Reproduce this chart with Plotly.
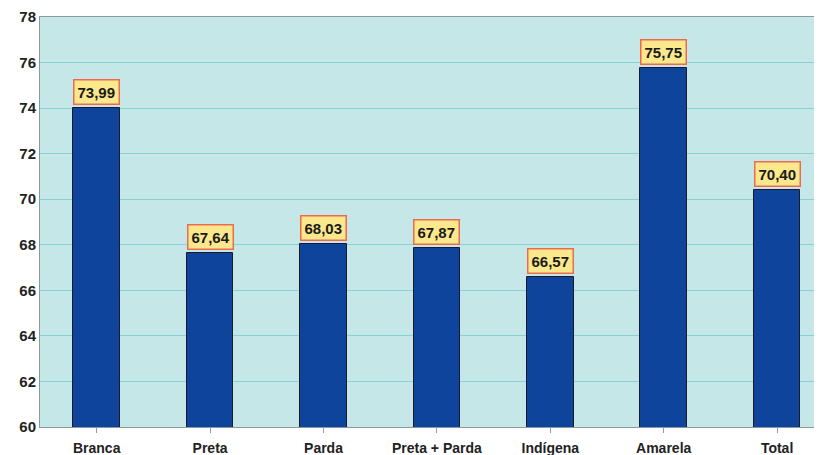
import plotly.graph_objects as go

categories = ["Branca", "Preta", "Parda", "Preta + Parda", "Indígena", "Amarela", "Total"]
values = [73.99, 67.64, 68.03, 67.87, 66.57, 75.75, 70.40]
labels = ["73,99", "67,64", "68,03", "67,87", "66,57", "75,75", "70,40"]
y_ticks = [60, 62, 64, 66, 68, 70, 72, 74, 76, 78]

fig = go.Figure()
fig.add_trace(go.Bar(
    x=list(range(len(categories))), y=values, base=0, width=0.41,
    marker=dict(color="#0e449b", line=dict(color="#1a1a2a", width=1)),
    hoverinfo="skip",
))

for i, (v, t) in enumerate(zip(values, labels)):
    fig.add_annotation(
        x=i, y=v, text="<b>" + t + "</b>", showarrow=False,
        yanchor="bottom", yshift=3,
        font=dict(family="Liberation Sans, Arial", size=15, color="#1a1a1a"),
        bgcolor="#fbe88c", bordercolor="#ee6a4e", borderwidth=1.5, borderpad=3,
    )

fig.update_layout(
    width=814, height=447,
    margin=dict(l=32, r=0, t=9, b=28),
    paper_bgcolor="white", plot_bgcolor="#c6e7e8",
    showlegend=False, bargap=0,
    font=dict(family="Liberation Sans, Arial", size=14, color="#222222"),
)
fig.update_xaxes(
    range=[-0.5, 6.396], tickmode="array", tickvals=list(range(len(categories))),
    ticktext=["<b>" + c + "</b>" for c in categories],
    tickson="boundaries", ticks="outside", ticklen=5, tickcolor="#999999",
    showline=True, linecolor="#8a9a9a", linewidth=1, mirror=True,
    showgrid=False, tickfont=dict(size=14), ticklabelstandoff=3,
)
fig.update_yaxes(
    range=[60, 78], tickvals=y_ticks, ticktext=["<b>%d</b>" % v for v in y_ticks],
    showgrid=True, gridcolor="#86d2d6", gridwidth=1,
    showline=True, linecolor="#8a9a9a", linewidth=1, mirror=True,
    ticks="", tickfont=dict(size=15), zeroline=False,
)

fig.write_html("out.html")
